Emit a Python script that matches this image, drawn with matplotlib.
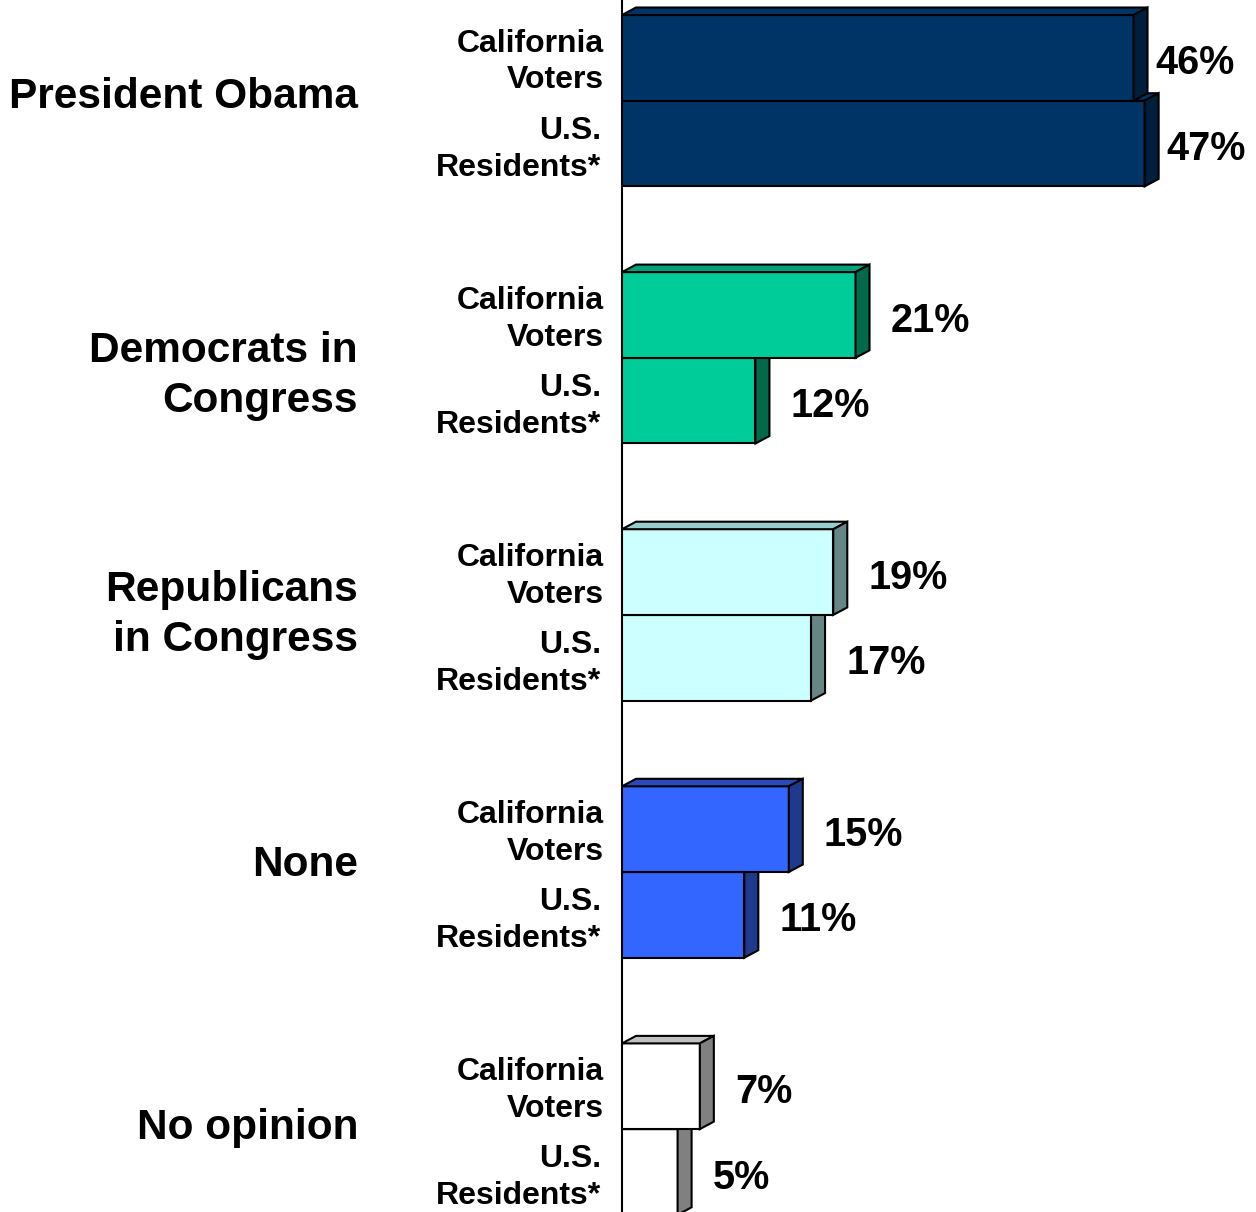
import matplotlib.pyplot as plt
from matplotlib.patches import Polygon

groups = ['President Obama', 'Democrats in\nCongress', 'Republicans\nin Congress', 'None', 'No opinion']
series = ['California\nVoters', 'U.S.\nResidents*']
ca_values = [46, 21, 19, 15, 7]
us_values = [47, 12, 17, 11, 5]

front_colors = ['#003366', '#00CC99', '#CCFFFF', '#3366FF', '#FFFFFF']
top_colors = ['#003366', '#00A07A', '#99CCCC', '#2A4AB8', '#C0C0C0']
side_colors = ['#001F3D', '#006A4A', '#668585', '#1F3A8C', '#808080']

# small vertical nudges of the group titles (points, + is up)
group_nudge = [3, -13, 0, 5, 1]

plt.rcParams['font.family'] = ['Liberation Sans', 'DejaVu Sans']
plt.rcParams['font.weight'] = 'bold'

fig = plt.figure(figsize=(12.56, 12.12), dpi=100)
ax = fig.add_axes([622 / 1256, 0, 1 - 622 / 1256, 1])

px_per_pct = 11.12
unit = 85.7
ax.set_xlim(0, 634 / px_per_pct)
ax.set_ylim((1212 - 15) / unit, -15 / unit)

dx = 14 / px_per_pct
dy = 7.5 / unit


def draw_bar(v, top, color_i, z):
    bottom = top + 1
    ax.barh(top, v, height=1, align='edge', color=front_colors[color_i],
            edgecolor='black', linewidth=1.5, zorder=z)
    ax.add_patch(Polygon([(0, top), (dx, top - dy), (v + dx, top - dy), (v, top)],
                         closed=True, facecolor=top_colors[color_i],
                         edgecolor='black', linewidth=1.5, zorder=z))
    ax.add_patch(Polygon([(v, top), (v + dx, top - dy), (v + dx, bottom - dy), (v, bottom)],
                         closed=True, facecolor=side_colors[color_i],
                         edgecolor='black', linewidth=1.5, zorder=z))


for i, g in enumerate(groups):
    ca_top = 3 * i
    us_top = 3 * i + 1
    # US bar sits behind the California bar
    draw_bar(us_values[i], us_top, i, 2)
    draw_bar(ca_values[i], ca_top, i, 3)

    for top, v in [(ca_top, ca_values[i]), (us_top, us_values[i])]:
        gap = 0.7 if v > 40 else 1.9
        ax.annotate(f'{v}%', (v + dx + gap, top + 0.5), xytext=(0, -4),
                    textcoords='offset points', fontsize=28.5, fontweight='bold',
                    ha='left', va='center', annotation_clip=False)

    ax.annotate(series[0], (0, ca_top + 0.5), xytext=(-13, -3), textcoords='offset points',
                ha='right', va='center', fontsize=23, fontweight='bold',
                annotation_clip=False, linespacing=1.3)
    ax.annotate(series[1], (0, us_top + 0.5), xytext=(-15, -4), textcoords='offset points',
                ha='right', va='center', fontsize=23, fontweight='bold',
                annotation_clip=False, linespacing=1.3)
    ax.annotate(g, (0, 3 * i + 1), xytext=(-190, group_nudge[i]), textcoords='offset points',
                ha='right', va='center', fontsize=30.5, fontweight='bold',
                annotation_clip=False, linespacing=1.3)

for s in ['top', 'right', 'bottom']:
    ax.spines[s].set_visible(False)
ax.spines['left'].set_linewidth(1.5)
ax.spines['left'].set_zorder(1)
ax.set_xticks([])
ax.set_yticks([])
ax.patch.set_alpha(0)

fig.savefig('out.png', dpi=100)
